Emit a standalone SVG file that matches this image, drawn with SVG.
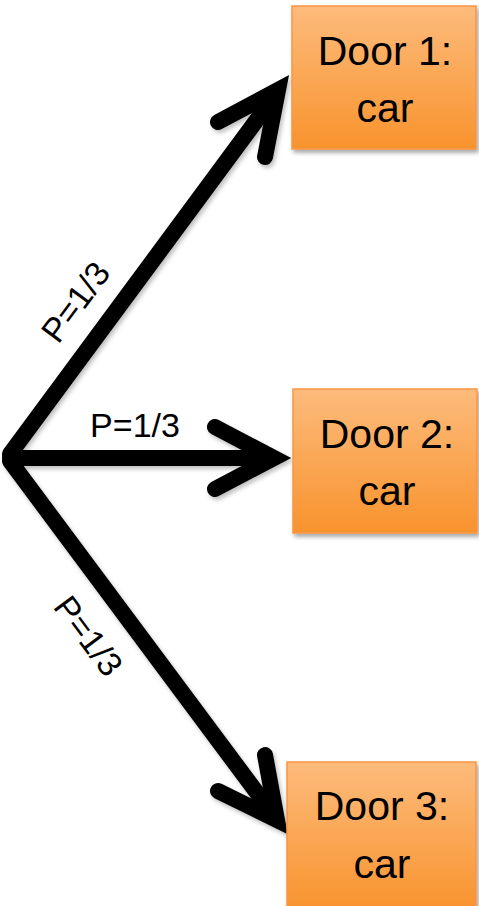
<svg xmlns="http://www.w3.org/2000/svg" width="479" height="906" viewBox="0 0 479 906">
  <defs>
    <linearGradient id="orange" x1="0" y1="0" x2="0" y2="1">
      <stop offset="0" stop-color="#FDBB7C"/>
      <stop offset="1" stop-color="#F8932D"/>
    </linearGradient>
    <filter id="shadow" x="-10%" y="-10%" width="130%" height="130%">
      <feDropShadow dx="2" dy="3" stdDeviation="2" flood-color="#000" flood-opacity="0.35"/>
    </filter>
    <filter id="lshadow" x="-10%" y="-10%" width="130%" height="130%">
      <feDropShadow dx="2" dy="3" stdDeviation="2" flood-color="#000" flood-opacity="0.25"/>
    </filter>
  </defs>
  <style>
    .box { fill: url(#orange); stroke: #F79646; stroke-width: 1.5; filter: url(#shadow); }
    .lbl { font-family: "Liberation Sans", Arial, sans-serif; font-size: 41px; fill: #000; text-anchor: middle; }
    .p { font-family: "Liberation Sans", Arial, sans-serif; font-size: 34px; fill: #000; text-anchor: middle; }
    .arrow { fill: none; stroke: #000; stroke-width: 16; stroke-linecap: round; stroke-linejoin: round; }
    .head { fill: none; stroke: #000; stroke-width: 16; stroke-linecap: round; stroke-linejoin: miter; stroke-miterlimit: 6; }
  </style>
  <rect width="479" height="906" fill="#fff"/>

  <g id="connectors" filter="url(#lshadow)">
    <path class="arrow" d="M10,454 L276,94"/>
    <path class="head" d="M218,122 L278,90 L265,157"/>
    <path class="arrow" d="M10,458 L272,458"/>
    <path class="head" d="M215,427 L274,458 L215,489"/>
    <path class="arrow" d="M10,461 L275,817"/>
    <path class="head" d="M218,791 L277,820 L265,755"/>
  </g>

  <g id="labels">
    <text class="p" transform="translate(85,309) rotate(-53.4)">P=1/3</text>
    <text class="p" x="135" y="437">P=1/3</text>
    <text class="p" transform="translate(79,643) rotate(53.4)">P=1/3</text>
  </g>

  <g id="door1">
    <rect class="box" x="292" y="6" width="184" height="143"/>
    <text class="lbl" x="385" y="65">Door 1:</text>
    <text class="lbl" x="385" y="122">car</text>
  </g>
  <g id="door2">
    <rect class="box" x="293" y="389" width="184" height="144"/>
    <text class="lbl" x="387" y="448">Door 2:</text>
    <text class="lbl" x="387" y="505">car</text>
  </g>
  <g id="door3">
    <rect class="box" x="287" y="762" width="189" height="150"/>
    <text class="lbl" x="382" y="820">Door 3:</text>
    <text class="lbl" x="382" y="878">car</text>
  </g>
</svg>
